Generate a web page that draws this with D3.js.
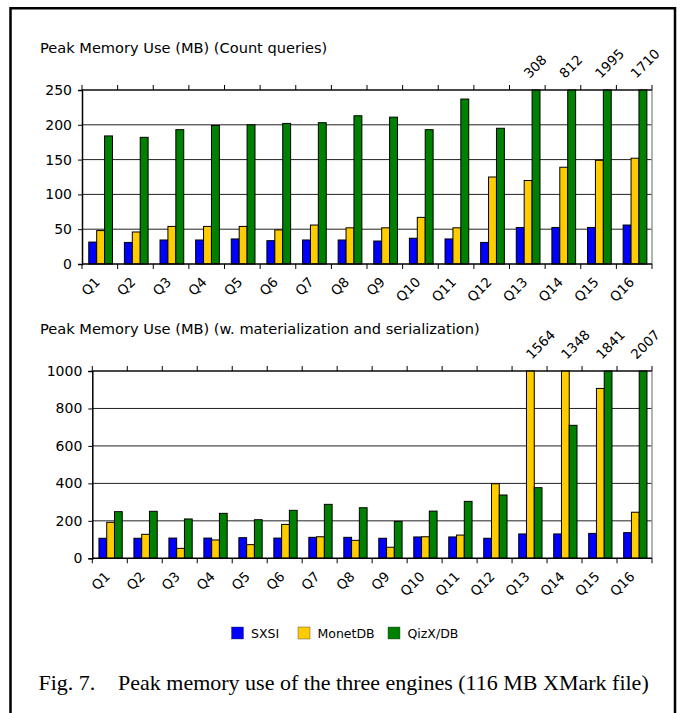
<!DOCTYPE html>
<html>
<head>
<meta charset="utf-8">
<script src="https://cdn.jsdelivr.net/npm/d3@7"></script>
<style>
  body { margin: 0; background: #fff; }
  svg { display: block; }
  .tick-label { font-family: 'DejaVu Sans', sans-serif; fill: #000; }
</style>
</head>
<body>
<script>
// query names along the x axis
const queries = ['Q1', 'Q2', 'Q3', 'Q4', 'Q5', 'Q6', 'Q7', 'Q8', 'Q9', 'Q10', 'Q11', 'Q12', 'Q13', 'Q14', 'Q15', 'Q16']
const engines = ['SXSI', 'MonetDB', 'QizX/DB']

// peak memory (MB), count queries
const countSXSI = [31.5, 31, 34.5, 34.5, 36, 33.5, 34.5, 34.5, 33, 37, 36, 31, 52.5, 52.5, 52.5, 56]
const countMonet = [48, 46, 54, 54, 54, 49, 56, 52, 52, 67, 52, 125, 120, 139, 149, 152]
const countQizx = [184, 182, 193, 199, 200, 202, 203, 213, 211, 193, 237, 195, 308, 812, 1995, 1710]
const countTicks = [0, 50, 100, 150, 200, 250]

// peak memory (MB), with materialization and serialization
const matSXSI = [107, 107, 108, 108, 110, 108, 112, 112, 107, 114, 114, 107, 130, 130, 133, 137]
const matMonet = [192, 128, 53, 98, 73, 181, 115, 96, 59, 115, 124, 398, 1564, 1348, 907, 246]
const matQizx = [249, 251, 210, 240, 206, 256, 288, 270, 197, 252, 304, 338, 377, 710, 1841, 2007]
const matTicks = [0, 200, 400, 600, 800, 1000]

const colors = ['#0000ff', '#ffcc00', '#008000']

const W = 683
const H = 713

const svg = d3.select('body')
    .append('svg')
    .attr('width', W)
    .attr('height', H)

// frame round the figure (bottom edge is off the page)
svg.append('path')
    .attr('d', `M10.5,${H + 5}V8.3H675V${H + 5}`)
    .attr('fill', 'none')
    .attr('stroke', '#000')
    .attr('stroke-width', 2.5)

function drawChart(opts) {
    const { title, series, ticks, left, right, top, bottom, titleY } = opts
    const maxY = d3.max(ticks)

    const x = d3.scaleBand()
        .domain(queries)
        .range([left, right])
        .padding(0)
    const w = x.bandwidth()

    const y = d3.scaleLinear()
        .domain([0, maxY])
        .range([bottom, top])

    const g = svg.append('g')

    // title
    g.append('text')
        .attr('x', 40)
        .attr('y', titleY)
        .attr('class', 'tick-label')
        .style('font-size', '14.6px')
        .text(title)

    // grid lines
    g.selectAll('.grid')
        .data(ticks.filter(t => t > 0))
        .enter()
        .append('line')
        .attr('x1', left)
        .attr('x2', right)
        .attr('y1', d => y(d))
        .attr('y2', d => y(d))
        .attr('stroke', '#222')
        .attr('stroke-width', 1)

    // bars
    const barOff = 0.19
    const barW = 0.222
    series.forEach((vals, s) => {
        g.selectAll('.bar' + s)
            .data(vals)
            .enter()
            .append('rect')
            .attr('x', (d, i) => x(queries[i]) + w * (barOff + s * barW))
            .attr('width', w * barW)
            .attr('y', d => y(Math.min(d, maxY)))
            .attr('height', d => bottom - y(Math.min(d, maxY)))
            .attr('fill', colors[s])
            .attr('stroke', '#000')
            .attr('stroke-width', 1)
    })

    // values that run off the top
    const over = []
    series.forEach(vals => vals.forEach((d, i) => { if (d > maxY) over.push({ q: queries[i], v: d }) }))
    g.selectAll('.over')
        .data(over)
        .enter()
        .append('text')
        .attr('class', 'tick-label')
        .style('font-size', '13.5px')
        .attr('transform', d => `translate(${x(d.q) + w * 0.56},${top - 11}) rotate(-45)`)
        .text(d => d.v)

    // right border (gray)
    g.append('line')
        .attr('x1', right).attr('x2', right)
        .attr('y1', top).attr('y2', bottom)
        .attr('stroke', '#999')
        .attr('stroke-width', 1.5)

    // y axis
    const yAxis = d3.axisLeft(y).tickValues(ticks).tickFormat(d3.format('d')).tickSize(4).tickPadding(6)
    const ya = g.append('g')
        .attr('transform', `translate(${left},0)`)
        .call(yAxis)
    ya.select('.domain').attr('stroke-width', 1.5)
    ya.selectAll('text')
        .attr('class', 'tick-label')
        .style('font-size', '14px')

    // x axis: ticks on category boundaries, bottom and top
    const bounds = d3.range(queries.length + 1).map(i => left + i * w)
    g.append('line')
        .attr('x1', left).attr('x2', right)
        .attr('y1', bottom).attr('y2', bottom)
        .attr('stroke', '#000').attr('stroke-width', 1.5)
    g.append('line')
        .attr('x1', left).attr('x2', right)
        .attr('y1', top).attr('y2', top)
        .attr('stroke', '#000').attr('stroke-width', 1.2)
    g.selectAll('.bt')
        .data(bounds)
        .enter()
        .append('line')
        .attr('x1', d => d).attr('x2', d => d)
        .attr('y1', bottom).attr('y2', bottom + 5)
        .attr('stroke', '#000')
    g.selectAll('.tt')
        .data(bounds)
        .enter()
        .append('line')
        .attr('x1', d => d).attr('x2', d => d)
        .attr('y1', top).attr('y2', top - 5)
        .attr('stroke', '#000')

    // x labels
    g.selectAll('.xl')
        .data(queries)
        .enter()
        .append('text')
        .attr('class', 'tick-label')
        .style('font-size', '13.5px')
        .attr('text-anchor', 'end')
        .attr('transform', d => `translate(${x(d) + w / 2 + 1},${bottom + 19}) rotate(-45)`)
        .text(d => d)
}

drawChart({
    title: 'Peak Memory Use (MB) (Count queries)',
    series: [countSXSI, countMonet, countQizx],
    ticks: countTicks,
    left: 82, right: 652, top: 90, bottom: 264,
    titleY: 53
})

drawChart({
    title: 'Peak Memory Use (MB) (w. materialization and serialization)',
    series: [matSXSI, matMonet, matQizx],
    ticks: matTicks,
    left: 92.3, right: 652, top: 371, bottom: 558.3,
    titleY: 334
})

// legend
const legendX = [231.5, 298, 388]
const legend = svg.append('g')
legend.selectAll('rect')
    .data(engines)
    .enter()
    .append('rect')
    .attr('x', (d, i) => legendX[i])
    .attr('y', 627)
    .attr('width', 12)
    .attr('height', 12)
    .attr('fill', (d, i) => colors[i])
    .attr('stroke', '#333')
    .attr('stroke-width', 0.4)
legend.selectAll('text')
    .data(engines)
    .enter()
    .append('text')
    .attr('class', 'tick-label')
    .style('font-size', '12.5px')
    .attr('x', (d, i) => legendX[i] + 19.5)
    .attr('y', 637.5)
    .text(d => d)

// caption
svg.append('text')
    .attr('x', 38.5)
    .attr('y', 690)
    .style('font-family', "'Liberation Serif', 'Times New Roman', serif")
    .style('font-size', '22px')
    .text('Fig. 7.')
svg.append('text')
    .attr('x', 118)
    .attr('y', 690)
    .style('font-family', "'Liberation Serif', 'Times New Roman', serif")
    .style('font-size', '22px')
    .text('Peak memory use of the three engines (116 MB XMark file)')
</script>
</body>
</html>
